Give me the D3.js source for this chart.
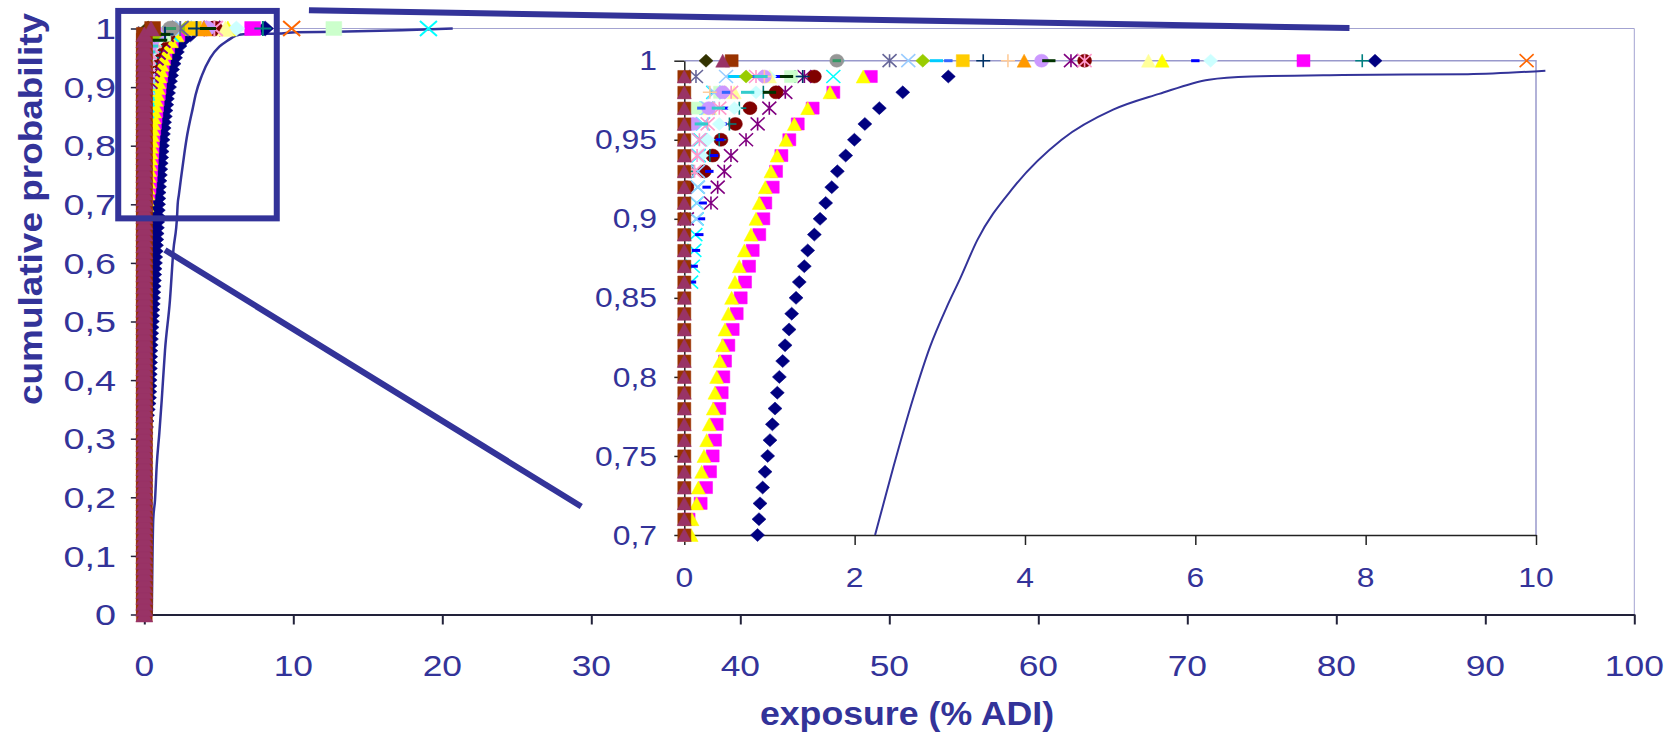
<!DOCTYPE html>
<html>
<head>
<meta charset="utf-8">
<script src="https://cdn.jsdelivr.net/npm/d3@7"></script>
<style>
  body { margin: 0; background: #fff; }
  svg { display: block; font-family: "Liberation Sans", Arial, sans-serif; }
</style>
</head>
<body>
<svg id="chart" width="1679" height="733"></svg>
<script>
// Tick values and labels (comma decimals, as in the original)
const mainXTicks = [0, 10, 20, 30, 40, 50, 60, 70, 80, 90, 100];
const mainYTicks = [0, 0.1, 0.2, 0.3, 0.4, 0.5, 0.6, 0.7, 0.8, 0.9, 1];
const mainYLabels = ['0', '0,1', '0,2', '0,3', '0,4', '0,5', '0,6', '0,7', '0,8', '0,9', '1'];
const insetXTicks = [0, 2, 4, 6, 8, 10];
const insetYTicks = [0.7, 0.75, 0.8, 0.85, 0.9, 0.95, 1];
const insetYLabels = ['0,7', '0,75', '0,8', '0,85', '0,9', '0,95', '1'];

// Exposure (% ADI) per series at consecutive percentiles, the last value is p = 1.00.
// Lower percentiles sit at 0, hidden behind the column at x = 0.
const s01 = [0, 0.02, 0.05, 0.08, 0.12, 0.17, 0.22, 0.25, 0.27, 0.28,
             0.29, 0.30, 0.31, 0.32, 0.33, 0.34, 0.36, 0.38, 0.40, 0.42,
             0.44, 0.46, 0.48, 0.50, 0.52, 0.54, 0.56, 0.58, 0.60, 0.62,
             0.65, 0.67, 0.70, 0.72, 0.74, 0.76, 0.78, 0.80, 0.82, 0.84,
             0.86, 0.877, 0.889, 0.92, 0.948, 0.979, 1.006, 1.034, 1.065, 1.092,
             1.116, 1.155, 1.183, 1.23, 1.261, 1.312, 1.35, 1.409, 1.449, 1.527,
             1.594, 1.66, 1.731, 1.797, 1.895, 1.997, 2.12, 2.29, 2.565, 3.10,
             8.11];
const s02 = [0.05, 0.192, 0.255, 0.302, 0.333, 0.36, 0.38, 0.411, 0.439,
             0.458, 0.478, 0.517, 0.568, 0.615, 0.662, 0.713, 0.76, 0.803, 0.88,
             0.928, 0.951, 1.038, 1.077, 1.14, 1.233, 1.332, 1.507, 1.75, 2.19,
             7.27];
const s03 = [0.08, 0.09, 0.145, 0.165, 0.204, 0.231, 0.263, 0.294, 0.34, 0.36,
             0.38, 0.419, 0.45, 0.478, 0.517, 0.556, 0.595, 0.646, 0.705, 0.783,
             0.842, 0.88, 0.951, 1.018, 1.09, 1.194, 1.292, 1.449, 1.711, 2.10,
             5.61];
const s04 = [0.08, 0.10, 0.118, 0.13, 0.145, 0.145, 0.157, 0.16, 0.17, 0.19, 0.22, 0.26, 0.34, 1.75, 19.07];
const s05 = [0.03, 0.313, 0.392, 0.47, 0.548, 0.725, 0.861, 0.998, 1.186, 1.41, 4.54];
const s06 = [0.03, 0.235, 0.333, 0.43, 0.60, 0.771, 1.077, 1.527, 4.70];
const s07 = [0.10, 0.30, 0.41, 0.53, 0.646, 0.928, 1.30, 7.96];
const s08 = [0.09, 0.11, 0.137, 0.176, 0.196, 0.216, 0.262, 0.294, 0.35, 0.42, 0.45, 0.47, 0.49, 1.116, 6.0];
const s09 = [0.118, 0.216, 0.37, 0.585, 2.96];
const s10 = [0.2, 0.274, 0.411, 0.587, 0.842, 1.0, 6.18];
const s11 = [0.157, 0.42, 1.253, 12.72];
const s12 = [0.3, 0.587, 1.0, 5.45];
const s13 = [0.14, 0.15, 0.16, 0.16, 0.16, 0.17, 0.216, 0.28, 0.352, 0.49, 2.63];
const s14 = [0.12, 0.15, 0.177, 0.274, 0.411, 0.55, 0.842, 4.70];
const s15 = [0.1, 0.286, 0.45, 0.94, 4.195];
const s16 = [0.3, 0.94, 3.8];
const s17 = [0.2, 0.49, 0.8, 3.1];
const s18 = [0.2, 0.4, 0.744, 0.9, 1.8];
const s19 = [0.725, 2.80];
const s20 = [3.27];
const s21 = [3.99];
const s22 = [9.89];
const s23 = [0.137, 2.41];
const s24 = [1.79];
const s25 = [1.39, 3.51];
const s26 = [1.79];
const s27 = [1.0, 1.2, 4.28];
const s28 = [0.255];
const s29 = [0, 0, 0, 0, 0, 0, 0, 0, 0, 0, 0, 0, 0, 0, 0, 0, 0, 0, 0, 0,
             0, 0, 0, 0, 0, 0, 0, 0, 0, 0, 0, 0, 0, 0, 0, 0, 0, 0, 0, 0,
             0, 0, 0, 0, 0, 0, 0, 0, 0, 0, 0, 0, 0, 0, 0, 0, 0, 0, 0, 0,
             0, 0, 0, 0, 0, 0, 0, 0, 0, 0, 0, 0, 0, 0, 0, 0, 0, 0, 0, 0,
             0, 0, 0, 0, 0, 0, 0, 0, 0, 0, 0, 0, 0, 0, 0, 0, 0, 0, 0, 0,
             0.556];
const s30 = [0, 0, 0, 0, 0, 0, 0, 0, 0, 0, 0, 0, 0, 0, 0, 0, 0, 0, 0, 0,
             0, 0, 0, 0, 0, 0, 0, 0, 0, 0, 0, 0, 0, 0, 0, 0, 0, 0, 0, 0,
             0, 0, 0, 0, 0, 0, 0, 0, 0, 0, 0, 0, 0, 0, 0, 0, 0, 0, 0, 0,
             0, 0, 0, 0, 0, 0, 0, 0, 0, 0, 0, 0, 0, 0, 0, 0, 0, 0, 0, 0,
             0, 0, 0, 0, 0, 0, 0, 0, 0, 0, 0, 0, 0, 0, 0, 0, 0, 0, 0, 0,
             0.451];

// Total exposure curve: [exposure, cumulative probability]
const totalCurve = [[0.5, 0.0], [0.55, 0.10], [0.60, 0.162], [0.72, 0.196], [0.83, 0.253],
  [1.01, 0.310], [1.17, 0.366], [1.39, 0.451], [1.72, 0.536], [1.95, 0.621], [2.2, 0.68],
  [2.24, 0.70], [2.318, 0.7156], [2.455, 0.743], [2.69, 0.787], [2.885, 0.819], [3.08, 0.844],
  [3.237, 0.862], [3.44, 0.8865], [3.867, 0.920], [4.43, 0.950], [5.035, 0.969], [5.575, 0.979],
  [6.16, 0.988], [6.654, 0.990], [7.732, 0.991], [9.2, 0.9915], [10.11, 0.9937], [12.8, 0.9943],
  [17.3, 0.997], [20.7, 1.0]];

// Zoom box drawn on the main chart (main data units) and the two connector lines
const zoomBox = { x0: -1.75, x1: 8.89, p0: 0.676, p1: 1.03 };
const connTop = { mainX: 11.05, mainP: 1.031, insetX: 7.81, insetP: 1.0207 };
const connLow = { mainX: 1.39, mainP: 0.622, insetX: -1.21, insetP: 0.718 };

// Style table built from the series (Excel default order of colours and markers)
const seriesTable = [
  [s01, '#000080', 'diamond'], [s02, '#ff00ff', 'square'], [s03, '#ffff00', 'triangle'],
  [s04, '#00ffff', 'x'], [s05, '#800080', 'star'], [s06, '#800000', 'circle'],
  [s07, '#008080', 'plus'], [s08, '#0000ff', 'dash'], [s09, '#00ccff', 'longdash'],
  [s10, '#ccffff', 'diamond'], [s11, '#ccffcc', 'square'], [s12, '#ffff99', 'triangle'],
  [s13, '#99ccff', 'x'], [s14, '#ff99cc', 'star'], [s15, '#cc99ff', 'circle'],
  [s16, '#ffcc99', 'plus'], [s17, '#3366ff', 'dash'], [s18, '#33cccc', 'longdash'],
  [s19, '#99cc00', 'diamond'], [s20, '#ffcc00', 'square'], [s21, '#ff9900', 'triangle'],
  [s22, '#ff6600', 'x'], [s23, '#666699', 'star'], [s24, '#969696', 'circle'],
  [s25, '#003366', 'plus'], [s26, '#339966', 'dash'], [s27, '#003300', 'longdash'],
  [s28, '#333300', 'diamond'], [s29, '#993300', 'square'], [s30, '#993366', 'triangle']
].map(([values, color, marker]) => ({ values, color, marker }));

const textColor = '#333399';
const sx = 1.18; // the original picture is stretched horizontally

const svg = d3.select('#chart');

const xMain = d3.scaleLinear().domain([-0.5, 100]).range([136.85, 1634.3]);
const yMain = d3.scaleLinear().domain([0, 1]).range([614.5, 28.5]);
const xInset = d3.scaleLinear().domain([0, 10]).range([684.3, 1536]);
const yInset = d3.scaleLinear().domain([0.7, 1]).range([535, 60.7]);

function toPoints(vals) {
    const n = vals.length;
    return vals.map((x, i) => ({ p: (101 - n + i) / 100, x }));
}

function markerPath(type, w, h) {
    switch (type) {
        case 'diamond': return `M0,${-h}L${w},0L0,${h}L${-w},0Z`;
        case 'square': return `M${-w * 0.93},${-h * 0.93}H${w * 0.93}V${h * 0.93}H${-w * 0.93}Z`;
        case 'triangle': return `M0,${-h}L${w},${h}H${-w}Z`;
        case 'circle': return `M${-w},0A${w},${h} 0 1,0 ${w},0A${w},${h} 0 1,0 ${-w},0Z`;
        case 'x': return `M${-w},${-h}L${w},${h}M${-w},${h}L${w},${-h}`;
        case 'star': return `M${-w},${-h}L${w},${h}M${-w},${h}L${w},${-h}M0,${-h}V${h}`;
        case 'plus': return `M${-w},0H${w}M0,${-h}V${h}`;
        case 'dash': return `M${-w * 0.6},0H${w * 0.6}`;
        case 'longdash': return `M${-w * 0.95},0H${w * 0.95}`;
    }
}

function drawSeries(layer, xs, ys, w, h, lw, keep) {
    seriesTable.forEach(s => {
        const pts = toPoints(s.values).filter(keep);
        const filled = ['diamond', 'square', 'triangle', 'circle'].includes(s.marker);
        const dash = s.marker === 'dash' || s.marker === 'longdash';
        layer.append('g')
            .selectAll('path')
            .data(pts)
            .join('path')
            .attr('transform', d => `translate(${xs(d.x)},${ys(d.p)})`)
            .attr('d', markerPath(s.marker, w, h))
            .attr('fill', filled ? s.color : 'none')
            .attr('stroke', s.color)
            .attr('stroke-width', filled ? 0.5 : (dash ? 3 : lw));
    });
}

function addText(g, x, y, str, size, anchor, weight, scaleX) {
    return g.append('text')
        .attr('transform', `translate(${x},${y}) scale(${scaleX},1)`)
        .attr('text-anchor', anchor)
        .attr('font-size', size)
        .attr('font-weight', weight)
        .attr('fill', textColor)
        .text(str);
}

function styleAxis(g, color, width) {
    g.selectAll('path, line').attr('stroke', color).attr('stroke-width', width);
}

// ---------- main chart ----------
const main = svg.append('g');

main.append('path')
    .attr('d', `M${xMain.range()[0]},${yMain(1)}H${xMain.range()[1]}V${yMain(0)}`)
    .attr('fill', 'none').attr('stroke', '#a3a3d1').attr('stroke-width', 1);

main.append('g')
    .attr('transform', `translate(0,${yMain(0)})`)
    .call(d3.axisBottom(xMain).tickValues(mainXTicks).tickSize(10).tickSizeOuter(0).tickFormat(''))
    .call(g => styleAxis(g, '#22223a', 2));

main.append('g')
    .attr('transform', `translate(${xMain.range()[0]},0)`)
    .call(d3.axisLeft(yMain).tickValues(mainYTicks).tickSize(6).tickSizeOuter(0).tickFormat(''))
    .call(g => styleAxis(g, '#22223a', 1.5));

mainXTicks.forEach(v => addText(main, xMain(v), 676, String(v), 30, 'middle', 'normal', sx));
mainYTicks.forEach((v, i) => addText(main, 116, yMain(v) + 10.7, mainYLabels[i], 30, 'end', 'normal', 1.26));

const lineMain = d3.line().x(d => xMain(d[0])).y(d => yMain(d[1])).curve(d3.curveMonotoneX);
main.append('path').datum(totalCurve)
    .attr('d', lineMain)
    .attr('fill', 'none').attr('stroke', '#333399').attr('stroke-width', 2.5);

drawSeries(main, xMain, yMain, 8.5, 7.5, 2, () => true);

addText(main, 907, 725, 'exposure (% ADI)', 34, 'middle', 'bold', 1.05);
main.append('text')
    .attr('transform', 'translate(42,209) rotate(-90)')
    .attr('text-anchor', 'middle')
    .attr('font-size', 33)
    .attr('font-weight', 'bold')
    .attr('fill', textColor)
    .attr('textLength', 392)
    .attr('lengthAdjust', 'spacingAndGlyphs')
    .text('cumulative probability');

// zoom box and connectors
main.append('rect')
    .attr('x', xMain(zoomBox.x0)).attr('y', yMain(zoomBox.p1))
    .attr('width', xMain(zoomBox.x1) - xMain(zoomBox.x0))
    .attr('height', yMain(zoomBox.p0) - yMain(zoomBox.p1))
    .attr('fill', 'none').attr('stroke', '#333399').attr('stroke-width', 6);

[connTop, connLow].forEach(c => {
    svg.append('line')
        .attr('x1', xMain(c.mainX)).attr('y1', yMain(c.mainP))
        .attr('x2', xInset(c.insetX)).attr('y2', yInset(c.insetP))
        .attr('stroke', '#333399').attr('stroke-width', 6);
});

// ---------- inset chart ----------
const inset = svg.append('g');

inset.append('path')
    .attr('d', `M${xInset(0)},${yInset(1)}H${xInset(10)}V${yInset(0.7)}`)
    .attr('fill', 'none').attr('stroke', '#9999cc').attr('stroke-width', 1.5);

inset.append('g')
    .attr('transform', `translate(0,${yInset(0.7)})`)
    .call(d3.axisBottom(xInset).tickValues(insetXTicks).tickSize(10).tickSizeOuter(0).tickFormat(''))
    .call(g => styleAxis(g, '#222', 1.5));

inset.append('g')
    .attr('transform', `translate(${xInset(0)},0)`)
    .call(d3.axisLeft(yInset).tickValues(insetYTicks).tickSize(10).tickSizeOuter(0).tickFormat(''))
    .call(g => styleAxis(g, '#222', 1.5));

insetXTicks.forEach(v => addText(inset, xInset(v), 587, String(v), 27, 'middle', 'normal', sx));
insetYTicks.forEach((v, i) => addText(inset, 657, yInset(v) + 9.6, insetYLabels[i], 27, 'end', 'normal', sx));

const lineInset = d3.line().x(d => xInset(d[0])).y(d => yInset(d[1])).curve(d3.curveMonotoneX);
inset.append('path')
    .datum(totalCurve.filter(d => d[1] >= 0.7 && d[0] <= 10.2))
    .attr('d', lineInset)
    .attr('fill', 'none').attr('stroke', '#333399').attr('stroke-width', 2);

drawSeries(inset, xInset, yInset, 7, 6.5, 1.6, d => d.p >= 0.695 && d.x <= 10.05);
</script>
</body>
</html>
